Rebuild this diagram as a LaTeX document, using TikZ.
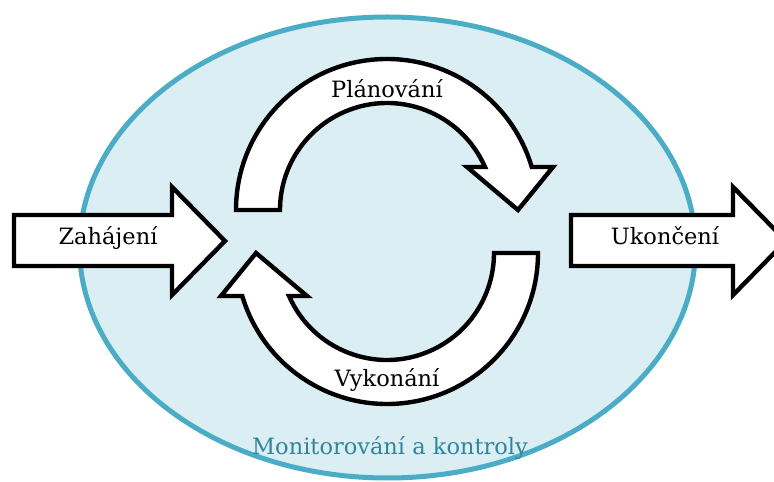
\documentclass[tikz,border=0pt]{standalone}
\usepackage{fontspec}
\setmainfont{DejaVu Serif}
\usepackage{xcolor}
\usepackage{tikz}
\usetikzlibrary{positioning}

\definecolor{monfill}{HTML}{DAEEF3}
\definecolor{monline}{HTML}{4BACC6}
\definecolor{montext}{HTML}{31849B}

\begin{document}
\begin{tikzpicture}[x=1pt,y=1pt,
		band/.style={draw=black,fill=white,line width=4.4pt},
		lab/.style={anchor=base,font=\fontsize{22.5}{26}\selectfont}]
			
			\useasboundingbox (0,0) rectangle (774,482);
			\clip (0,0) rectangle (774,482);
			
			% monitoring ellipse
			\draw[monline,fill=monfill,line width=5pt] (387.5,234.5) ellipse[x radius=308,y radius=230.5];
			
			% straight arrows in and out
			\draw[band] (14,216) -- (14,267) -- (172,267) -- (172,295) -- (225,241) -- (172,187) -- (172,216) -- cycle;
			\draw[band] (571,216) -- (571,267) -- (733,267) -- (733,295) -- (786,241) -- (733,187) -- (733,216) -- cycle;
			
			% curved arrows of the cycle
			\foreach \cx/\cy/\rot in {387/272/0, 387/229/180}
			{
				\begin{scope}[shift={(\cx,\cy)},rotate=\rot]
					\draw[band] (180:151) arc[start angle=180,end angle=16.55,radius=151]
						-- (166,43) -- (131,0) -- (80,43) -- (23.7:107)
						arc[start angle=23.7,end angle=180,radius=107] -- cycle;
				\end{scope}
			}
			
			\node[lab] (zahajeni) at (108,237) {Zahájení};
			\node[lab] (ukonceni) at (665,237) {Ukončení};
			\node[lab] (planovani) at (387,384) {Plánování};
			\node[lab] (vykonani) at (387,95) {Vykonání};
			\node[lab,text=montext] (monitor) at (390,27) {Monitorování a kontroly};
			
		\end{tikzpicture}
\end{document}
